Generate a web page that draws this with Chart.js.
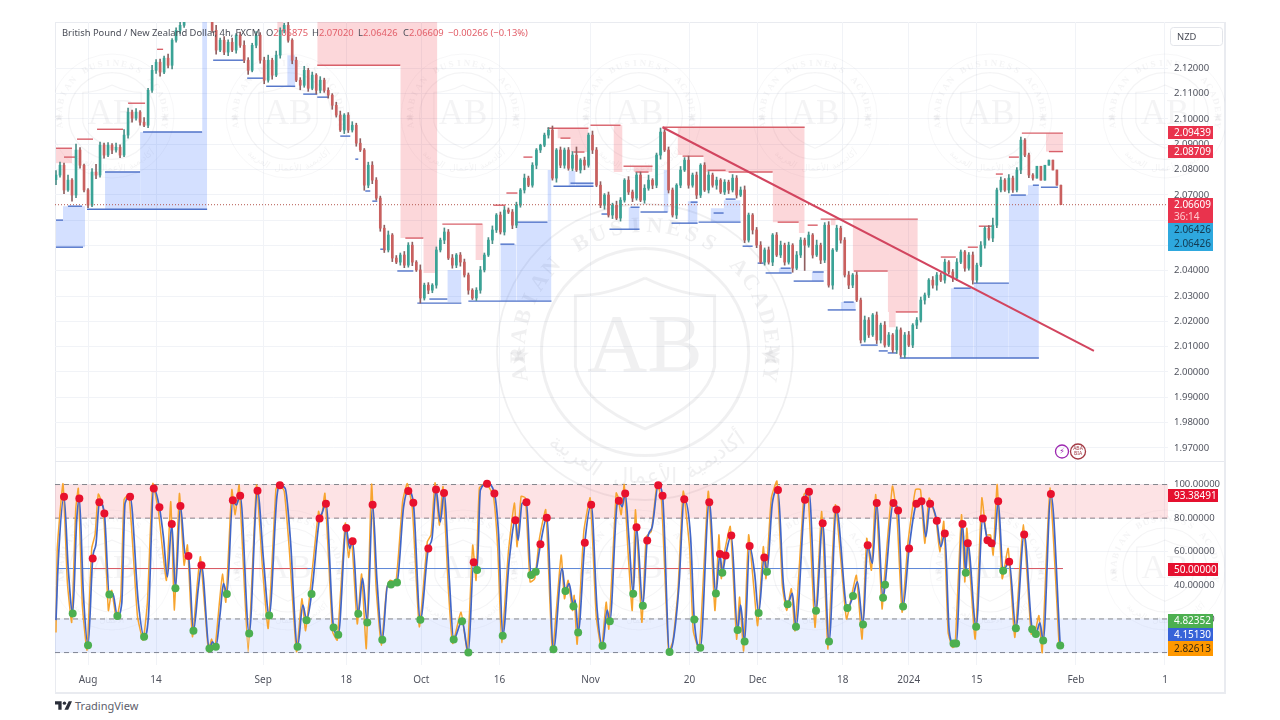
<!DOCTYPE html>
<html>
<head>
<meta charset="utf-8">
<title>GBPNZD 4h</title>
<script src="https://cdn.jsdelivr.net/npm/chart.js@4"></script>
<style>
body { margin: 0; width: 1280px; height: 720px; background: #fff; overflow: hidden; position: relative; }
#frame { position: absolute; left: 55px; top: 22px; width: 1168px; height: 669px; border: 1px solid #e9ebf0; border-right-width: 2px; border-bottom-width: 2px; }
#sep { position: absolute; left: 55px; top: 461px; width: 1169px; height: 1px; background: #e6e8ee; }
#priceChart { position: absolute; left: 55px; top: 22px; }
#oscChart { position: absolute; left: 55px; top: 462px; }
#brand { position: absolute; left: 55px; top: 698px; font: 11px 'Noto Sans', sans-serif; color: #5d606b; display: flex; align-items: center; gap: 3px; }
</style>
</head>
<body>
<div id="frame"></div>
<div id="sep"></div>
<canvas id="priceChart" width="1170" height="440"></canvas>
<canvas id="oscChart" width="1170" height="231"></canvas>
<div id="brand"><svg width="17" height="9" viewBox="0 0 36 18"><path d="M0 0h14v18H7V7H0z M29 0h7l-8 18h-8z" fill="#2a2e39"/><circle cx="20" cy="4" r="3.6" fill="#2a2e39"/></svg><span>TradingView</span></div>
<script>
// one candle every 4px, open = previous close
const firstOpen = 2.0760;
const candleClose = [
  2.0778,2.0817,2.0719,2.0758,2.0699,2.0877,2.0817,2.0719,2.0659,2.0790,2.0778,2.0896,2.0857,2.0896,2.0877,2.0888,
  2.0857,2.0936,2.1027,2.1003,2.1027,2.0987,2.0975,2.1113,2.1192,2.1224,2.1185,2.1240,2.1212,2.1311,2.1350,2.1370,
  2.1420,2.1460,2.1490,2.1510,2.1480,2.1500,2.1450,
  2.1350,2.1272,2.1311,2.1264,2.1303,2.1272,2.1331,2.1291,2.1232,2.1192,2.1291,2.1331,2.1232,2.1153,2.1232,2.1173,
  2.1252,2.1350,2.1370,2.1311,2.1232,2.1153,2.1133,2.1192,2.1121,2.1173,2.1113,2.1153,2.1113,2.1094,2.1054,2.1015,
  2.0956,2.1015,2.0956,2.0975,2.0904,2.0877,2.0738,2.0817,2.0758,2.0687,2.0568,2.0482,2.0541,2.0450,2.0434,2.0462,
  2.0422,2.0501,2.0434,2.0403,2.0292,2.0343,2.0323,2.0343,2.0482,2.0521,2.0553,2.0450,2.0422,2.0462,2.0434,2.0383,
  2.0323,2.0292,2.0323,2.0403,2.0462,2.0521,2.0561,2.0620,2.0553,2.0640,2.0632,2.0580,2.0659,2.0719,2.0766,2.0738,
  2.0817,2.0877,2.0896,2.0936,2.0956,2.0766,2.0877,2.0817,2.0877,2.0805,2.0857,2.0798,2.0837,2.0817,2.0936,2.0877,
  2.0738,2.0659,2.0699,2.0620,2.0659,2.0608,2.0679,2.0758,2.0711,2.0687,2.0778,2.0679,2.0726,2.0758,2.0738,2.0857,
  2.0948,2.0877,2.0719,2.0620,2.0738,2.0798,2.0837,2.0738,2.0778,2.0699,2.0817,2.0719,2.0778,2.0738,2.0758,2.0711,
  2.0750,2.0719,2.0766,2.0699,2.0719,2.0521,2.0620,2.0561,2.0501,2.0434,2.0482,2.0434,2.0541,2.0462,2.0501,2.0434,
  2.0501,2.0410,2.0462,2.0521,2.0501,2.0541,2.0462,2.0501,2.0442,2.0580,2.0343,2.0482,2.0568,2.0521,2.0383,2.0343,
  2.0383,2.0284,2.0126,2.0205,2.0146,2.0225,2.0126,2.0185,2.0106,2.0146,2.0087,2.0166,2.0067,2.0146,2.0106,2.0185,
  2.0205,2.0284,2.0304,2.0363,2.0343,2.0383,2.0363,2.0434,2.0395,2.0371,2.0434,2.0474,2.0410,2.0462,2.0363,2.0422,
  2.0501,2.0568,2.0529,2.0580,2.0719,2.0758,2.0719,2.0766,2.0719,2.0798,2.0916,2.0857,2.0778,2.0766,2.0813,2.0758,
  2.0817,2.0837,2.0798,2.0738,2.0661
];
// wick lengths in 0.0001 price units
const wickUp = [
  18,12,8,20,6,24,10,4,6,14,30,12,8,10,6,16,10,22,16,8,14,6,18,8,20,10,12,8,16,6,10,14,
  10,8,12,6,10,8,14,12,20,8,14,10,16,6,12,18,10,8,14,10,12,20,8,16,10,8,14,6,12,10,16,8,
  12,6,14,8,10,6,12,16,6,10,14,8,18,6,12,14,10,8,12,16,6,10,8,14,10,12,6,20,8,10,6,12,
  8,16,10,14,6,10,12,8,6,10,14,8,10,16,6,12,14,8,10,12,6,16,8,10,6,4,8,10,16,6,12,8,
  10,14,32,6,12,8,16,10,14,6,12,8,16,10,6,14,8,10,12,14,20,6,8,16,10,12,8,6,14,10,16,8,
  12,6,10,14,8,12,6,10,8,14,10,12,16,8,6,10,14,8,12,6,10,16,8,12,6,14,10,8,12,6,20,8,
  10,14,6,12,8,10,14,6,12,8,16,10,6,12,8,14,10,6,12,8,10,14,6,10,12,8,6,14,10,8,12,6,
  10,14,8,6,10,12,8,14,6,10,28,8,12,6,14,8,10,12,6,8,6
];
const wickDown = [
  20,8,14,6,24,10,12,8,10,6,14,8,12,6,14,8,10,6,12,16,8,12,6,10,8,12,16,6,10,14,8,12,
  8,10,6,12,8,10,14,8,16,6,10,14,6,12,8,10,16,6,10,12,14,8,16,6,12,10,8,14,6,18,8,12,
  6,14,10,8,12,16,8,6,14,10,8,12,6,20,10,14,8,12,10,8,14,6,12,10,8,14,6,20,8,14,10,12,
  8,14,6,12,10,16,8,16,6,10,12,8,6,14,10,8,12,6,14,10,8,12,6,8,14,10,6,12,8,16,10,12,
  8,10,6,12,18,8,14,6,10,16,8,14,6,12,8,10,14,8,6,12,8,14,10,16,6,12,8,14,10,6,12,8,
  14,10,6,12,8,16,6,10,14,8,12,6,10,8,16,10,6,12,8,14,6,10,12,8,16,6,10,100,8,12,6,14,
  10,8,16,6,12,8,14,10,6,12,8,10,6,14,12,8,6,10,14,8,12,6,10,14,8,16,10,12,20,6,12,8,
  14,10,6,12,8,16,10,6,12,8,14,10,8,6,12,10,8,14,6,10,8
];

// [from bar, to bar, price]
const resistanceLines = [
  [0,4,2.0884],[2,5,2.0849],[5.25,9.25,2.0920],[10.25,16.75,2.0959],[18,22.25,2.1062],[25.25,26.75,2.1275],
  [65.25,86,2.1212],[87.25,91.75,2.0529],[96.5,106.5,2.0584],[109.25,112.25,2.0659],[112.5,115.25,2.0707],
  [116.75,119,2.0849],[122.75,133,2.0963],[126,128.5,2.0924],[129.25,132,2.0869],[133.5,141,2.0975],
  [141.75,149,2.0813],[144.75,148,2.0790],[151.5,187,2.0967],[156.5,161.75,2.0853],[162.75,167.25,2.0797],
  [168,179,2.0790],[180.25,185.5,2.0592],[187.75,190.25,2.0580],[191,215.25,2.0604],[199.25,207.75,2.0399],
  [209.75,215.25,2.0237],[221,224.75,2.0454],[227.75,230.25,2.0493],[230.5,234,2.0576],[234.75,236.5,2.0782],
  [238,240.5,2.0849],[241.25,251.5,2.09439],[248,251.5,2.08709]
];
const supportLines = [
  [0,1.75,2.0600],[0,6.75,2.0493],[3,6.5,2.0655],[7.75,37.75,2.0643],[12.25,21,2.0790],[21.75,36.5,2.0948],
  [39.25,46.75,2.1232],[47.75,51.75,2.1161],[52.5,59.75,2.1129],[61.75,65.25,2.1098],[65.25,68,2.1086],
  [71,73.5,2.0932],[74.75,75.5,2.0841],[77.25,78.5,2.0715],[79,80.25,2.0675],[81,82.25,2.0485],[85.25,89.25,2.0399],
  [90.25,101.25,2.0272],[93.25,97.75,2.0288],[103,123.75,2.0280],[111,114.5,2.0505],[115,122.75,2.0592],
  [124.25,134.25,2.0734],[128.5,134.25,2.0746],[136.25,137.75,2.0624],[138.25,145.75,2.0564],[143.5,145.75,2.0651],
  [146,152.75,2.0632],[153.75,160.25,2.0588],[158.5,160.25,2.0671],[160.5,171,2.0592],[164.25,166.75,2.0628],
  [167.25,169.75,2.0683],[171.5,174,2.0497],[175.25,176.75,2.0430],[177.25,183.75,2.0391],[181,183.5,2.0410],
  [184.25,191.75,2.0359],[189,191.75,2.0395],[192.75,199.75,2.0245],[196.75,199.25,2.0276],[201,205.25,2.0106],
  [205.5,207.75,2.0083],[207.75,210,2.0075],[210.75,245.5,2.0055],[224.25,228.5,2.0331],[229.25,238,2.0351],
  [238.5,242.25,2.0699],[244,245.5,2.0738],[246,250.25,2.0730]
];
// [from bar, to bar, top price, bottom price]
const resistanceBoxes = [
  [0,4,2.0884,2.0825],[55.25,56.75,2.14,2.1343],[65.25,95.25,2.14,2.1212],[86,95.25,2.1212,2.0529],
  [91.75,95.25,2.0529,2.0391],[104.75,106.75,2.0584,2.0442],[125.25,133,2.0963,2.0924],[128.5,133,2.0924,2.0869],
  [139.25,141.5,2.0975,2.0790],[144.25,149,2.0813,2.0790],[155.25,187,2.0967,2.0857],[161.75,187,2.0857,2.0790],
  [179,187,2.0790,2.0592],[185.5,187,2.0592,2.0549],[193.5,194.75,2.0604,2.0580],[199,215.25,2.0604,2.0403],
  [207.75,215.25,2.0403,2.0237],[208,209.75,2.0237,2.0177],[247.25,251.5,2.09439,2.08709]
];
const supportBoxes = [
  [0,1.75,2.0600,2.0493],[1.75,7.25,2.0655,2.0493],[12.25,21,2.0790,2.0643],[21,37.75,2.0948,2.0643],
  [36.5,37.75,2.14,2.0948],[57.75,59.75,2.1252,2.1129],[97.75,101.25,2.0403,2.0276],[111,115,2.0505,2.0280],
  [115,123.75,2.0592,2.0280],[122.75,123.75,2.0798,2.0592],[128,129.75,2.0794,2.0734],[129.75,134.25,2.0746,2.0734],
  [143,145.75,2.0651,2.0564],[151.75,153,2.0798,2.0632],[157.75,160.25,2.0675,2.0588],[163.5,171,2.0647,2.0592],
  [166.75,171,2.0679,2.0647],[180.5,183.75,2.0410,2.0391],[188.75,191.75,2.0395,2.0359],[196,199.75,2.0276,2.0245],
  [223.5,229.25,2.0331,2.0055],[229.25,238,2.0351,2.0055],[238,245.5,2.0699,2.0055],[242.75,245.5,2.0738,2.0699]
];
const trendBars = [151.5, 259.25];
const trendPrices = [2.0967, 2.0083];
const lastPrice = 2.06609;
const priceTicks = [2.12,2.11,2.10,2.09,2.08,2.07,2.06,2.05,2.04,2.03,2.02,2.01,2.00,1.99,1.98,1.97];

// stochastic turning points
const oscBar = [
  0,.58,2,3.08,4.17,5.17,5.83,6.83,8,9.17,
  10,10.83,12.08,13.33,14.17,15.33,16.42,17.25,18.5,20.58,
  22,23.08,24.42,25.83,26.83,27.83,28.92,29.83,31.08,32.25,
  33.08,34.33,35.58,36.33,38.33,39.08,39.92,41,41.83,42.67,
  44.17,45,46,48.25,50.33,51.83,53.25,55.17,55.92,57.25,
  58.5,60.33,61.67,62.58,63.83,65.83,66.42,67.42,69.33,70.5,
  72.5,73.33,74.08,75.5,76.58,77.75,79.08,80.17,81.5,82.83,
  83.67,85.17,86.83,88,89.25,91,93,93.92,94.92,96,
  96.92,98.25,99.33,101.42,103,104.33,105.17,106,107.67,109.5,
  110.58,111.58,113.25,114.75,115.42,116.42,117.5,118.67,119.83,121,
  122.58,124.25,126.42,127.25,128.17,129.25,129.67,130.42,132.08,133.67,
  135.17,136.5,137.67,138.33,140.17,140.58,141.42,142.17,143.08,144.17,
  145,146.58,147.67,148.92,150.42,151.5,153.25,154.33,155.58,156.92,
  158.5,159.42,160.92,163.17,164.83,165.83,166.42,167.25,168.67,170.25,
  171,172,173.25,174.5,175.5,176.92,177.58,178.92,180.33,181.67,
  182.75,183.92,184.83,187.08,188.08,189.83,191.5,193.08,194.92,197.67,
  199.08,200.17,201.58,202.75,203.92,205,206.58,207.08,209.17,210.33,
  211.58,213.08,214.92,216.17,217.25,218.33,220,221,222,223.08,
  224.17,224.83,226.42,227.25,227.75,229.83,231.5,232.67,233.67,234.33,
  235.33,236.58,238.08,239.75,241.83,243.83,244.75,245.75,246.58,248.5,
  250.83
];
const oscSlow = [
  19.3,55,92.7,49.1,23.3,78.8,91.7,35.2,4.4,56,
  65,89.4,82.8,34.6,35.2,21.7,29.2,88.8,92.7,29.2,
  9.4,21.3,97.7,86.4,68.9,45.1,76.5,38.2,87.2,59,
  57.4,13,39.2,51.9,2.4,6.4,3.4,23.3,41.1,34.8,
  90.7,87.8,93.3,11.4,96.3,55,22.1,92.7,99.5,97.7,
  68.9,3.4,28.2,19.3,34.8,79.8,82.8,88.6,14.9,10.6,
  74.1,62,66.3,23.1,44.1,17.9,88,43.1,7.6,40.1,
  40.5,41.7,86.8,96.1,89.2,19.5,62,67.9,97.1,77.8,
  94.9,43.1,7.8,18.7,0.1,53.8,49.1,96.7,100.5,94.7,
  68.9,10,56,78.8,66.9,88.8,89.4,46.1,48.1,64.4,
  80.2,1.9,50.1,36.6,41.1,27.6,31.2,12,65.3,88,
  25.3,4,25.3,18.7,88.8,90.3,86.8,94.7,68.9,35,
  74.5,27.8,66.7,74.9,99.5,93.3,0.3,9.4,39.2,91.3,
  68.9,19.7,2.8,89.5,35.2,58.6,47.5,57.8,69.7,13.4,
  28.2,6.6,63.4,47.1,23.5,56.6,48.1,88.8,96.7,41.1,
  28.8,35.2,15.4,90.9,95.7,24.9,76.9,6.6,85.2,26.5,
  33.6,42.1,16.7,63.8,53.1,89,32.6,40.4,89,84.6,
  27.4,62,88.6,90.1,68.9,88.6,78.4,63,70.9,13.4,
  5.4,5.4,76.5,47.5,65,15.4,79.8,66.9,65,63,
  90,48.7,54,14.4,70.3,13.8,11,17.7,7.2,94.3,
  4.15
];
const oscFast = [
  12,62,100.5,42,18,85,97.7,28,1.5,62,
  70,94.3,85.8,25,37,20,33,91,94,22,
  7.4,30,100.6,84,62,43,89.8,25.3,94.7,52,
  64,9.4,42,57,0.5,8,2,28,46.7,30,
  97,82,99.6,0.5,99.6,50,14.4,97,100.6,96,
  62,0.5,32,13,39,84,78,94.7,12.4,7.4,
  77,56.6,68,17,46.7,2.4,100.2,40,4.4,38,
  43,42,90,100.6,86,15.3,66,70,101,75.8,
  98.7,38,5.4,24,0.5,64,43,98,101,93,
  62,6,60,89,63,93,92,42,44,68,
  85,0.8,58,32,43,25,34,5,72,92,
  22,2,30,14,95,93,82,100,62,25,
  85,18,69,72,101,90,0.3,7,36,96,
  62,13,1.5,96,25,70,44,60,75,8,
  33,1,70,40,16,63,44,92,102,40,
  25,38,13,94,96,15,84,2,88,20,
  35,46,8,68,49,94,26,42,99,80,
  24,66,97,97,65,92,80,60,78,12,
  3,4,82,42,74,8,92,70,70,58,
  100,44,62,9,76,11,12,22,0,98,
  2.83
];
// 1 = red dot, 2 = green dot
const oscMark = [
  0,0,1,0,2,0,1,0,2,1,
  0,1,1,2,0,2,0,0,1,0,
  2,0,1,1,0,0,1,2,1,0,
  1,2,0,1,2,0,2,0,0,2,
  1,0,1,2,1,0,2,0,1,0,
  0,2,0,2,2,1,0,1,2,2,
  1,0,1,2,0,2,1,0,2,0,
  2,2,0,1,1,2,1,0,1,0,
  1,0,2,2,2,1,2,0,1,1,
  0,2,0,1,0,0,1,2,2,1,
  1,2,0,2,0,2,0,2,1,1,
  0,2,0,2,0,1,0,1,0,2,
  1,2,1,0,1,1,2,0,0,1,
  0,2,2,1,2,1,2,1,1,2,
  0,2,1,0,2,1,2,0,1,0,
  2,0,2,1,1,2,1,2,1,2,
  2,0,2,1,0,1,2,2,1,1,
  2,1,1,1,0,1,1,0,1,0,
  2,2,1,2,1,2,1,1,1,0,
  1,2,1,2,1,2,2,0,2,1,
  2
];
const oscBands = [100, 80, 20, 0];
const oscTicks = [100, 80, 60, 40, 20, 0];
const midRedSpans = [[9.25,62.75],[139,158.5],[239.25,251.5]];

const xTickBars = [8,25,51.75,72.5,91.25,110.75,133.5,158.25,175.25,196.5,213,230,254.75,277];
const xTickLabels = ['Aug','14','Sep','18','Oct','16','Nov','20','Dec','18','2024','15','Feb','1'];

const xMin = -0.25, xMax = 277.75;
const sans = "'Noto Sans', sans-serif";

function levelSet(seg, color) {
  return { type: 'line', data: [{ x: seg[0], y: seg[2] }, { x: seg[1], y: seg[2] }], borderColor: color, borderWidth: 1.4, pointRadius: 0, order: 10 };
}
function boxSet(box, color) {
  return { type: 'line', data: [{ x: box[0], y: box[2] }, { x: box[1], y: box[2] }], borderWidth: 0, backgroundColor: color, fill: { value: box[3] }, pointRadius: 0, order: 20 };
}

// faint academy seal, repeated behind the charts
function drawSeal(ctx, cx, cy, R, alpha) {
  const c = 'rgba(105,105,120,' + alpha + ')';
  ctx.save();
  ctx.translate(cx, cy);
  ctx.strokeStyle = c;
  ctx.fillStyle = c;
  ctx.lineWidth = R * 0.012;
  ctx.beginPath(); ctx.arc(0, 0, R, 0, Math.PI * 2); ctx.stroke();
  ctx.lineWidth = R * 0.02;
  ctx.beginPath(); ctx.arc(0, 0, R * 0.7, 0, Math.PI * 2); ctx.stroke();
  // shield
  ctx.beginPath();
  ctx.moveTo(0, -R * 0.5);
  ctx.quadraticCurveTo(R * 0.25, -R * 0.38, R * 0.47, -R * 0.38);
  ctx.lineTo(R * 0.47, R * 0.1);
  ctx.quadraticCurveTo(R * 0.42, R * 0.35, 0, R * 0.52);
  ctx.quadraticCurveTo(-R * 0.42, R * 0.35, -R * 0.47, R * 0.1);
  ctx.lineTo(-R * 0.47, -R * 0.38);
  ctx.quadraticCurveTo(-R * 0.25, -R * 0.38, 0, -R * 0.5);
  ctx.stroke();
  ctx.textAlign = 'center';
  ctx.textBaseline = 'middle';
  ctx.font = Math.round(R * 0.56) + "px 'Liberation Serif', serif";
  ctx.fillText('AB', 0, -R * 0.02);
  ctx.font = Math.round(R * 0.17) + 'px \'DejaVu Sans\'';
  ctx.fillText('★', -R * 0.85, R * 0.04);
  ctx.fillText('★', R * 0.85, R * 0.04);
  const name = 'ARABIAN BUSINESS ACADEMY';
  ctx.font = 'bold ' + Math.round(R * 0.15) + "px 'Liberation Serif', serif";
  for (let i = 0; i < name.length; i++) {
    const a = (-100 + 200 * i / (name.length - 1)) * Math.PI / 180;
    ctx.save();
    ctx.rotate(a);
    ctx.fillText(name[i], 0, -R * 0.85);
    ctx.restore();
  }
  ctx.font = Math.round(R * 0.14) + "px 'DejaVu Sans'";
  [['أكاديمية', 34], ['الأعمال', 0], ['العربية', -34]].forEach(w => {
    ctx.save();
    ctx.rotate(-w[1] * Math.PI / 180);
    ctx.fillText(w[0], 0, R * 0.85);
    ctx.restore();
  });
  ctx.restore();
}
function drawWatermark(ctx, ox, oy) {
  [112, 288, 463, 639, 815, 990, 1165].forEach(cx => {
    drawSeal(ctx, cx - ox, 116 - oy, 62, 0.07);
    drawSeal(ctx, cx - ox, 570 - oy, 60, 0.07);
  });
  drawSeal(ctx, 645 - ox, 352 - oy, 148, 0.1);
}
function badge(ctx, x, y, w, h, fill, lines, color) {
  ctx.fillStyle = fill;
  ctx.fillRect(x, y, w, h);
  ctx.font = '10px ' + sans;
  ctx.textAlign = 'left';
  ctx.textBaseline = 'middle';
  const step = h / lines.length;
  lines.forEach((t, i) => {
    ctx.fillStyle = Array.isArray(color) ? color[i] : color;
    ctx.fillText(t, x + 6, y + step * (i + 0.5) + 0.5);
  });
}

const priceOverlay = {
  id: 'priceOverlay',
  beforeDatasetsDraw(chart) { drawWatermark(chart.ctx, 55, 22); },
  afterDraw(chart) {
    const ctx = chart.ctx, ys = chart.scales.y, x0 = chart.chartArea.right;
    const yp = v => Math.round(ys.getPixelForValue(v));
    badge(ctx, x0, yp(2.09439) - 7, 45, 13, '#e9334d', ['2.09439'], '#fff');
    badge(ctx, x0, yp(2.08709) - 7, 45, 13, '#e9334d', ['2.08709'], '#fff');
    badge(ctx, x0, yp(lastPrice) - 7, 45, 25, '#e9334d', ['2.06609', '36:14'], ['#fff', '#ffc9cf']);
    badge(ctx, x0, yp(lastPrice) + 18, 45, 28, '#2ea8de', ['2.06426', '2.06426'], '#123a52');
    // legend line
    ctx.textBaseline = 'middle';
    ctx.textAlign = 'left';
    ctx.font = '9.4px ' + sans;
    ctx.fillStyle = '#4a4d57';
    ctx.fillText('British Pound / New Zealand Dollar, 4h, FXCM', 7, 11);
    const red = '#e2606a';
    [['O', '2.06875', 211], ['H', '2.07020', 257], ['L', '2.06426', 303], ['C', '2.06609', 348]].forEach(p => {
      ctx.fillStyle = '#4a4d57';
      ctx.fillText(p[0], p[2], 11);
      const w = ctx.measureText(p[0]).width;
      ctx.fillStyle = red;
      ctx.fillText(p[1], p[2] + w, 11);
    });
    ctx.fillStyle = red;
    ctx.fillText('−0.00266 (−0.13%)', 393, 11);
    // currency box
    ctx.strokeStyle = '#e3e5ea';
    ctx.lineWidth = 1;
    ctx.beginPath();
    ctx.roundRect(1115.5, 5.5, 52, 18, 3);
    ctx.stroke();
    ctx.fillStyle = '#4a4d57';
    ctx.fillText('NZD', 1122, 15);
    // indicator icons
    ctx.lineWidth = 1.3;
    ctx.strokeStyle = '#9c27b0';
    ctx.beginPath(); ctx.arc(1007, 429.5, 6.5, 0, Math.PI * 2); ctx.stroke();
    ctx.strokeStyle = '#a33a44';
    ctx.beginPath(); ctx.arc(1023, 429.5, 7.5, 0, Math.PI * 2); ctx.stroke();
    ctx.fillStyle = '#9c27b0';
    ctx.textAlign = 'center';
    ctx.font = "8px 'DejaVu Sans'";
    ctx.fillText('⚡', 1007, 430);
    ctx.fillStyle = '#a33a44';
    ctx.font = '5px ' + sans;
    ctx.fillText('ABA', 1023, 427);
    ctx.fillText('BIA', 1023, 432);
  }
};
const oscOverlay = {
  id: 'oscOverlay',
  beforeDatasetsDraw(chart) { drawWatermark(chart.ctx, 55, 462); },
  afterDraw(chart) {
    const ctx = chart.ctx, ys = chart.scales.y, x0 = chart.chartArea.right;
    const yp = v => Math.round(ys.getPixelForValue(v));
    badge(ctx, x0, yp(93.38491) - 7, 50, 13, '#e5102f', ['93.38491'], '#fff');
    badge(ctx, x0, yp(50) - 6, 50, 13, '#e5102f', ['50.00000'], '#fff');
    badge(ctx, x0, yp(20) - 5, 45, 14, '#4caf50', ['4.82352'], '#fff');
    badge(ctx, x0, yp(20) + 9, 45, 13, '#3763d8', ['4.15130'], '#fff');
    badge(ctx, x0, yp(20) + 22, 45, 15, '#ff9800', ['2.82613'], '#3a2a10');
  }
};

// keep plot edges exact: no room reserved for overhanging tick labels
function fitRight(scale) { scale.width = 57; scale.paddingTop = 0; scale.paddingBottom = 0; }
function fitBottom(h) { return s => { s.height = h; s.paddingLeft = 0; s.paddingRight = 0; }; }

const candles = candleClose.map((c, i) => {
  const o = i === 0 ? firstOpen : candleClose[i - 1];
  const up = (wickUp[i] || 0) / 10000, down = (wickDown[i] || 0) / 10000;
  return { o, c, h: Math.max(o, c) + up, l: Math.min(o, c) - down };
});

const priceSets = [];
resistanceBoxes.forEach(b => priceSets.push(boxSet(b, 'rgba(242,54,69,0.2)')));
supportBoxes.forEach(b => priceSets.push(boxSet(b, 'rgba(41,98,255,0.2)')));
resistanceLines.forEach(s => priceSets.push(levelSet(s, '#d8606a')));
supportLines.forEach(s => priceSets.push(levelSet(s, '#4f72c8')));
priceSets.push({
  type: 'bar', order: 4, barThickness: 1, grouped: false,
  data: candles.map((k, i) => ({ x: i, y: [k.l, k.h] })),
  backgroundColor: candles.map(k => k.c >= k.o ? '#4d8f88' : '#8f5f60')
});
priceSets.push({
  type: 'bar', order: 3, barThickness: 2, minBarLength: 1, grouped: false,
  data: candles.map((k, i) => ({ x: i, y: [k.o, k.c] })),
  backgroundColor: candles.map(k => k.c >= k.o ? '#3aa396' : '#c9605f')
});
priceSets.push({
  type: 'line', order: 2, borderColor: '#b4574f', borderWidth: 1, borderDash: [1, 2], pointRadius: 0,
  data: [{ x: xMin, y: lastPrice }, { x: xMax, y: lastPrice }]
});
priceSets.push({
  type: 'line', order: 1, borderColor: '#d2455f', borderWidth: 2, pointRadius: 0,
  data: [{ x: trendBars[0], y: trendPrices[0] }, { x: trendBars[1], y: trendPrices[1] }]
});

const gridColor = '#f1f3f7';
new Chart(document.getElementById('priceChart'), {
  type: 'bar',
  data: { datasets: priceSets },
  options: {
    responsive: false, animation: false, events: [],
    layout: { padding: 0, autoPadding: false },
    plugins: { legend: { display: false }, tooltip: { enabled: false } },
    scales: {
      x: {
        type: 'linear', min: xMin, max: xMax, offset: false,
        afterBuildTicks: s => { s.ticks = xTickBars.map(v => ({ value: v })); },
        ticks: { display: false },
        grid: { color: gridColor, drawTicks: false, offset: false },
        border: { display: false },
        afterFit: fitBottom(0)
      },
      y: {
        position: 'right', min: 1.9644, max: 2.1383,
        afterBuildTicks: s => { s.ticks = priceTicks.map(v => ({ value: v })); },
        afterFit: fitRight,
        ticks: { color: '#50535e', font: { family: sans, size: 9.5 }, padding: 6, callback: v => v.toFixed(5) },
        grid: { color: gridColor, drawTicks: false },
        border: { display: false }
      }
    }
  },
  plugins: [priceOverlay]
});

const oscSets = [
  { type: 'line', order: 20, data: [{ x: xMin, y: oscBands[0] }, { x: xMax, y: oscBands[0] }], borderColor: '#85878e', borderWidth: 1, borderDash: [5, 4], pointRadius: 0, backgroundColor: 'rgba(242,54,69,0.14)', fill: { value: oscBands[1] } },
  { type: 'line', order: 20, data: [{ x: xMin, y: oscBands[1] }, { x: xMax, y: oscBands[1] }], borderColor: '#85878e', borderWidth: 1, borderDash: [5, 4], pointRadius: 0 },
  { type: 'line', order: 20, data: [{ x: xMin, y: oscBands[2] }, { x: xMax, y: oscBands[2] }], borderColor: '#85878e', borderWidth: 1, borderDash: [5, 4], pointRadius: 0, backgroundColor: 'rgba(41,98,255,0.1)', fill: { value: oscBands[3] } },
  { type: 'line', order: 20, data: [{ x: xMin, y: oscBands[3] }, { x: xMax, y: oscBands[3] }], borderColor: '#85878e', borderWidth: 1, borderDash: [5, 4], pointRadius: 0 },
  { type: 'line', order: 15, data: [{ x: 0, y: 50 }, { x: 251.5, y: 50 }], borderColor: '#5b86d6', borderWidth: 1, pointRadius: 0 }
];
midRedSpans.forEach(s => oscSets.push({ type: 'line', order: 14, data: [{ x: s[0], y: 50 }, { x: s[1], y: 50 }], borderColor: '#dd5a62', borderWidth: 1, pointRadius: 0 }));
oscSets.push({
  type: 'line', order: 6, borderColor: '#f7a42e', borderWidth: 1.5, pointRadius: 0, tension: 0.15,
  data: oscBar.map((b, i) => ({ x: Math.max(0, b - 0.25), y: oscFast[i] }))
});
oscSets.push({
  type: 'line', order: 5, borderColor: '#4166c8', borderWidth: 1.7, pointRadius: 0, cubicInterpolationMode: 'monotone',
  data: oscBar.map((b, i) => ({ x: b, y: oscSlow[i] }))
});
[[1, '#e8112d'], [2, '#4caf50']].forEach(m => {
  oscSets.push({
    type: 'line', order: 2, showLine: false, pointRadius: 4, pointBorderWidth: 0, pointBackgroundColor: m[1],
    data: oscBar.map((b, i) => ({ x: b, y: oscSlow[i], m: oscMark[i] })).filter(p => p.m === m[0])
  });
});

new Chart(document.getElementById('oscChart'), {
  type: 'line',
  data: { datasets: oscSets },
  options: {
    responsive: false, animation: false, events: [],
    layout: { padding: 0, autoPadding: false },
    plugins: { legend: { display: false }, tooltip: { enabled: false } },
    scales: {
      x: {
        type: 'linear', min: xMin, max: xMax,
        afterBuildTicks: s => { s.ticks = xTickBars.map(v => ({ value: v })); },
        ticks: {
          color: '#50535e', font: { family: sans, size: 10 }, padding: 9, maxRotation: 0, autoSkip: false,
          callback: v => xTickLabels[xTickBars.indexOf(v)]
        },
        grid: { color: gridColor, drawTicks: false },
        border: { display: false },
        afterFit: fitBottom(28)
      },
      y: {
        position: 'right', min: -7.4, max: 113.4,
        afterBuildTicks: s => { s.ticks = oscTicks.map(v => ({ value: v })); },
        afterFit: fitRight,
        ticks: { color: '#50535e', font: { family: sans, size: 9.5 }, padding: 6, callback: v => v.toFixed(5) },
        grid: { color: gridColor, drawTicks: false },
        border: { display: false }
      }
    }
  },
  plugins: [oscOverlay]
});
</script>
</body>
</html>
